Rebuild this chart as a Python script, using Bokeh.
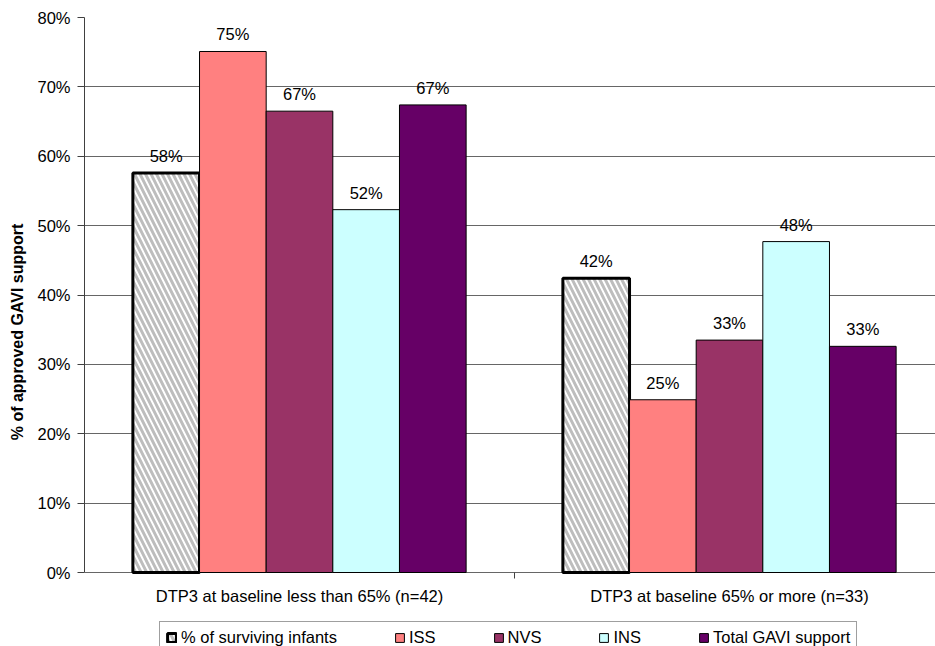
from bokeh.plotting import figure
from bokeh.models import (Range1d, FixedTicker, PrintfTickFormatter, Legend, LegendItem,
                          ColumnDataSource)
from bokeh.core.properties import value
from bokeh.embed import file_html
from bokeh.resources import INLINE

categories = ["DTP3 at baseline less than 65% (n=42)", "DTP3 at baseline 65% or more (n=33)"]
series = ["% of surviving infants", "ISS", "NVS", "INS", "Total GAVI support"]
surviving = [57.6, 42.4]
iss = [75.1, 24.9]
nvs = [66.5, 33.5]
ins = [52.3, 47.7]
total = [67.4, 32.6]
label_texts = {
    "% of surviving infants": ["58%", "42%"],
    "ISS": ["75%", "25%"],
    "NVS": ["67%", "33%"],
    "INS": ["52%", "48%"],
    "Total GAVI support": ["67%", "33%"],
}
y_ticks = [0, 10, 20, 30, 40, 50, 60, 70, 80]

values = [surviving, iss, nvs, ins, total]
colors = ["white", "#FF8080", "#993366", "#CCFFFF", "#660066"]

FONT = "Liberation Sans"
FS = "16.5px"
W, H = 935, 646
left_b, top_b = 84, 17
frame_w = W - left_b
cat_px = 430.0
plot_h = 555.0             # pixels from 0% to 80%
below_px = H - top_b - plot_h  # space under the 0% line kept inside the frame
px_per_unit = plot_h / 80.0
y_min = -below_px / px_per_unit

p = figure(width=W, height=H, output_backend="svg", toolbar_location=None,
           x_range=Range1d(0, frame_w / cat_px), y_range=Range1d(y_min, 80),
           x_axis_location=None,
           min_border_left=left_b, min_border_right=0, min_border_top=top_b, min_border_bottom=0)
p.outline_line_color = None
p.background_fill_color = "white"
p.border_fill_color = "white"

# grid
p.xgrid.grid_line_color = None
p.ygrid.ticker = FixedTicker(ticks=y_ticks)
p.ygrid.grid_line_color = "#666666"
p.ygrid.grid_line_width = 1

bar_w = 0.155
centers = [0.5, 1.5]
renderers = []
for i, (name, vals, col) in enumerate(zip(series, values, colors)):
    xs = [c + (i - 2) * bar_w for c in centers]
    src = ColumnDataSource(dict(x=xs, top=vals, lab=label_texts[name]))
    if i == 0:
        r = p.vbar(x="x", top="top", width=bar_w, source=src, fill_color="white",
                   line_color="black", line_width=3,
                   hatch_pattern="left_diagonal_line", hatch_color="#bdbdbd",
                   hatch_weight=3, hatch_scale=11)
    else:
        r = p.vbar(x="x", top="top", width=bar_w, source=src, fill_color=col,
                   line_color="black", line_width=1)
    renderers.append(r)
    p.text(x="x", y="top", text="lab", source=src, text_align="center",
           text_baseline="middle", y_offset=-17, text_font=value(FONT),
           text_font_size=FS, text_color="black")

# category axis: line at 0 is the grid line; tick between categories; labels
tick_len = 6 / px_per_unit
p.segment(x0=[1.0], y0=[0], x1=[1.0], y1=[-tick_len], line_color="#404040", line_width=1)
p.text(x=centers, y=[0, 0], text=categories, text_align="center", text_baseline="middle",
       y_offset=23, text_font=value(FONT), text_font_size=FS, text_color="black")

# y axis
ya = p.yaxis[0]
ya.bounds = (0, 80)
ya.ticker = FixedTicker(ticks=y_ticks)
ya.formatter = PrintfTickFormatter(format="%d%%")
ya.axis_line_color = "#404040"
ya.major_tick_line_color = "#404040"
ya.major_tick_out = 7
ya.major_tick_in = 0
ya.minor_tick_line_color = None
ya.major_label_standoff = 7
ya.major_label_text_font = FONT
ya.major_label_text_font_size = FS
ya.major_label_text_color = "black"
ya.axis_label = "% of approved GAVI support"
ya.axis_label_text_font = FONT
ya.axis_label_text_font_size = "16px"
ya.axis_label_text_font_style = "bold"
ya.axis_label_text_color = "black"
ya.axis_label_standoff = 8

# legend
items = [LegendItem(label=s, renderers=[r]) for s, r in zip(series, renderers)]
legend = Legend(items=items, orientation="horizontal", location=(75, -8),
                label_text_font=FONT, label_text_font_size=FS,
                label_text_color="black", glyph_width=11, glyph_height=11,
                label_standoff=4, spacing=57, label_width=0, padding=6, margin=0,
                border_line_color="#404040", border_line_width=1,
                background_fill_color="white", background_fill_alpha=1)
p.add_layout(legend, "center")

open("out.html", "w").write(file_html(p, INLINE))
